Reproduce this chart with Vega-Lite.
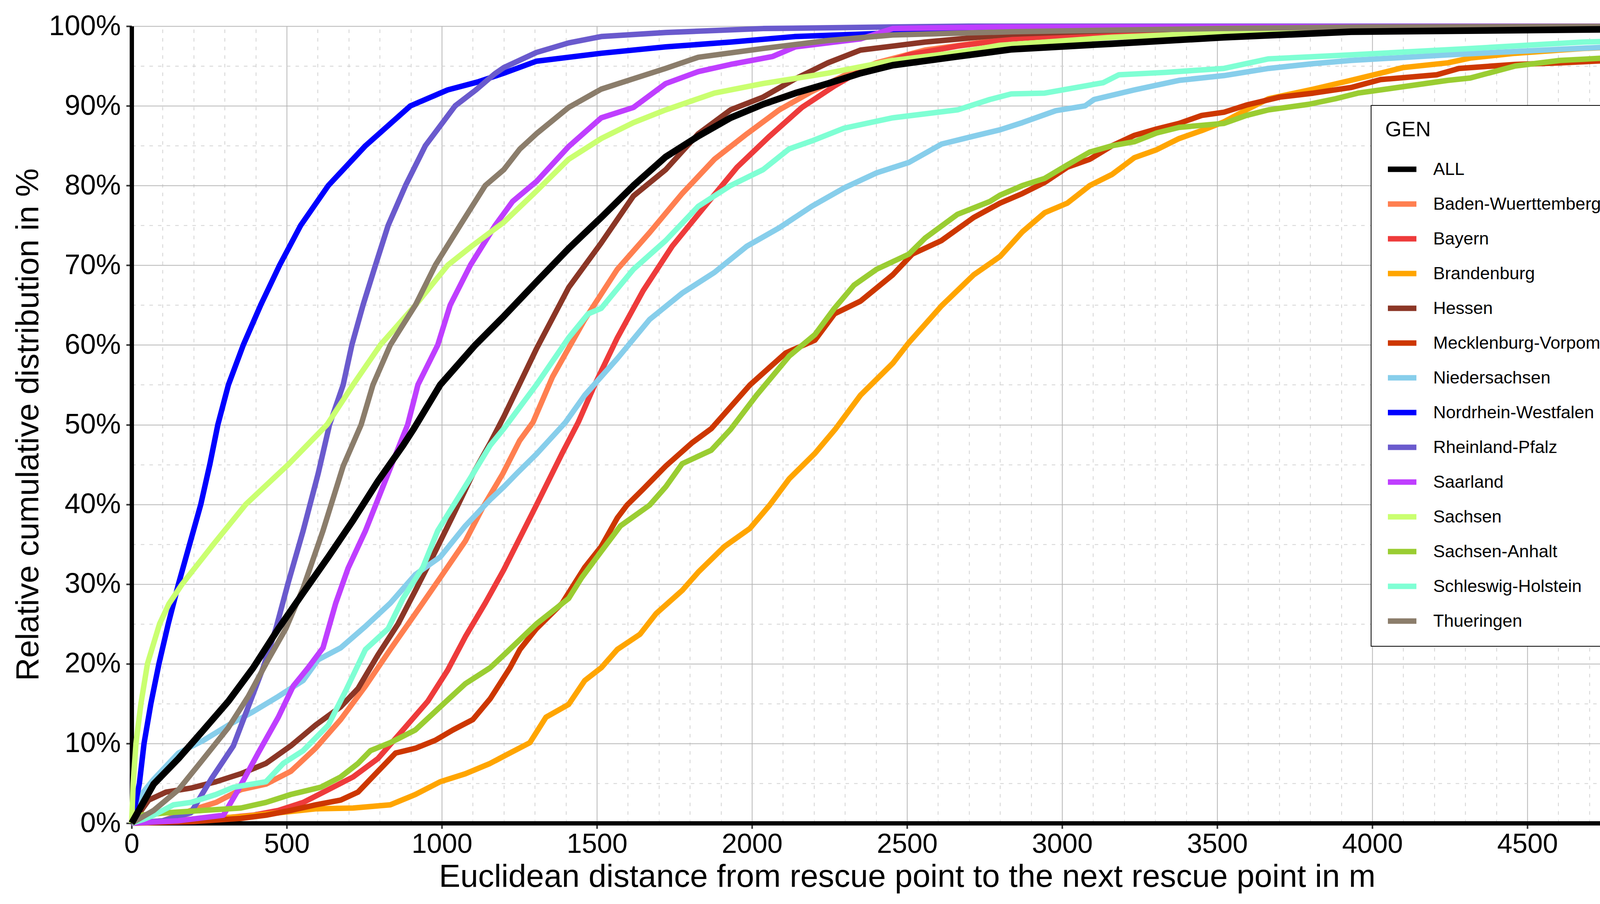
{
  "$schema": "https://vega.github.io/schema/vega-lite/v6.json",
  "width": 3970,
  "height": 2041,
  "autosize": {"type": "none"},
  "padding": {"left": 337, "top": 67, "right": 103, "bottom": 207},
  "background": "white",
  "config": {"view": {"stroke": null}, "font": "Liberation Sans", "legend": {"strokeWidth": 2}},
  "datasets": {
    "cdf": [
      {"GEN": "Baden-Wuerttemberg", "d": 0, "p": 0}, {"GEN": "Baden-Wuerttemberg", "d": 100, "p": 0.3}, {"GEN": "Baden-Wuerttemberg", "d": 191, "p": 1.6}, {"GEN": "Baden-Wuerttemberg", "d": 272, "p": 2.6}, {"GEN": "Baden-Wuerttemberg", "d": 352, "p": 4.2}, {"GEN": "Baden-Wuerttemberg", "d": 433, "p": 4.9}, {"GEN": "Baden-Wuerttemberg", "d": 513, "p": 6.5}, {"GEN": "Baden-Wuerttemberg", "d": 593, "p": 9.4}, {"GEN": "Baden-Wuerttemberg", "d": 674, "p": 13}, {"GEN": "Baden-Wuerttemberg", "d": 754, "p": 17.2}, {"GEN": "Baden-Wuerttemberg", "d": 834, "p": 21.8}, {"GEN": "Baden-Wuerttemberg", "d": 915, "p": 26.3}, {"GEN": "Baden-Wuerttemberg", "d": 995, "p": 30.8}, {"GEN": "Baden-Wuerttemberg", "d": 1076, "p": 35.4}, {"GEN": "Baden-Wuerttemberg", "d": 1132, "p": 39.6}, {"GEN": "Baden-Wuerttemberg", "d": 1196, "p": 43.8}, {"GEN": "Baden-Wuerttemberg", "d": 1251, "p": 48}, {"GEN": "Baden-Wuerttemberg", "d": 1294, "p": 50.3}, {"GEN": "Baden-Wuerttemberg", "d": 1357, "p": 56}, {"GEN": "Baden-Wuerttemberg", "d": 1461, "p": 63.2}, {"GEN": "Baden-Wuerttemberg", "d": 1566, "p": 69.5}, {"GEN": "Baden-Wuerttemberg", "d": 1670, "p": 74.1}, {"GEN": "Baden-Wuerttemberg", "d": 1775, "p": 79}, {"GEN": "Baden-Wuerttemberg", "d": 1879, "p": 83.3}, {"GEN": "Baden-Wuerttemberg", "d": 1984, "p": 86.5}, {"GEN": "Baden-Wuerttemberg", "d": 2088, "p": 89.5}, {"GEN": "Baden-Wuerttemberg", "d": 2193, "p": 91.8}, {"GEN": "Baden-Wuerttemberg", "d": 2297, "p": 93.8}, {"GEN": "Baden-Wuerttemberg", "d": 2402, "p": 95.4}, {"GEN": "Baden-Wuerttemberg", "d": 2558, "p": 97}, {"GEN": "Baden-Wuerttemberg", "d": 2838, "p": 98.5}, {"GEN": "Baden-Wuerttemberg", "d": 3161, "p": 99.2}, {"GEN": "Baden-Wuerttemberg", "d": 3700, "p": 99.6}, {"GEN": "Baden-Wuerttemberg", "d": 5000, "p": 100},
      {"GEN": "Bayern", "d": 0, "p": 0}, {"GEN": "Bayern", "d": 200, "p": 0.3}, {"GEN": "Bayern", "d": 392, "p": 1}, {"GEN": "Bayern", "d": 473, "p": 1.6}, {"GEN": "Bayern", "d": 553, "p": 2.6}, {"GEN": "Bayern", "d": 634, "p": 4.2}, {"GEN": "Bayern", "d": 714, "p": 5.8}, {"GEN": "Bayern", "d": 794, "p": 8.1}, {"GEN": "Bayern", "d": 875, "p": 11.7}, {"GEN": "Bayern", "d": 955, "p": 15.3}, {"GEN": "Bayern", "d": 1019, "p": 19.2}, {"GEN": "Bayern", "d": 1076, "p": 23.4}, {"GEN": "Bayern", "d": 1140, "p": 27.6}, {"GEN": "Bayern", "d": 1200, "p": 31.8}, {"GEN": "Bayern", "d": 1305, "p": 39.9}, {"GEN": "Bayern", "d": 1388, "p": 46.4}, {"GEN": "Bayern", "d": 1440, "p": 50.3}, {"GEN": "Bayern", "d": 1493, "p": 55}, {"GEN": "Bayern", "d": 1566, "p": 60.9}, {"GEN": "Bayern", "d": 1649, "p": 66.8}, {"GEN": "Bayern", "d": 1743, "p": 72.4}, {"GEN": "Bayern", "d": 1848, "p": 77.4}, {"GEN": "Bayern", "d": 1952, "p": 82.3}, {"GEN": "Bayern", "d": 2057, "p": 86.2}, {"GEN": "Bayern", "d": 2161, "p": 89.8}, {"GEN": "Bayern", "d": 2266, "p": 92.5}, {"GEN": "Bayern", "d": 2350, "p": 94.4}, {"GEN": "Bayern", "d": 2506, "p": 96.4}, {"GEN": "Bayern", "d": 2663, "p": 97.5}, {"GEN": "Bayern", "d": 2838, "p": 98.4}, {"GEN": "Bayern", "d": 3161, "p": 99.2}, {"GEN": "Bayern", "d": 3700, "p": 99.6}, {"GEN": "Bayern", "d": 5000, "p": 100},
      {"GEN": "Brandenburg", "d": 0, "p": 0}, {"GEN": "Brandenburg", "d": 232, "p": 0.6}, {"GEN": "Brandenburg", "d": 352, "p": 0.8}, {"GEN": "Brandenburg", "d": 473, "p": 1.3}, {"GEN": "Brandenburg", "d": 593, "p": 1.8}, {"GEN": "Brandenburg", "d": 714, "p": 1.9}, {"GEN": "Brandenburg", "d": 834, "p": 2.3}, {"GEN": "Brandenburg", "d": 915, "p": 3.6}, {"GEN": "Brandenburg", "d": 995, "p": 5.2}, {"GEN": "Brandenburg", "d": 1076, "p": 6.2}, {"GEN": "Brandenburg", "d": 1156, "p": 7.5}, {"GEN": "Brandenburg", "d": 1200, "p": 8.4}, {"GEN": "Brandenburg", "d": 1284, "p": 10.1}, {"GEN": "Brandenburg", "d": 1336, "p": 13.3}, {"GEN": "Brandenburg", "d": 1409, "p": 14.9}, {"GEN": "Brandenburg", "d": 1461, "p": 17.9}, {"GEN": "Brandenburg", "d": 1514, "p": 19.5}, {"GEN": "Brandenburg", "d": 1566, "p": 21.8}, {"GEN": "Brandenburg", "d": 1639, "p": 23.7}, {"GEN": "Brandenburg", "d": 1691, "p": 26.3}, {"GEN": "Brandenburg", "d": 1775, "p": 29.2}, {"GEN": "Brandenburg", "d": 1827, "p": 31.5}, {"GEN": "Brandenburg", "d": 1911, "p": 34.7}, {"GEN": "Brandenburg", "d": 1994, "p": 37}, {"GEN": "Brandenburg", "d": 2057, "p": 39.9}, {"GEN": "Brandenburg", "d": 2120, "p": 43.2}, {"GEN": "Brandenburg", "d": 2203, "p": 46.4}, {"GEN": "Brandenburg", "d": 2270, "p": 49.5}, {"GEN": "Brandenburg", "d": 2350, "p": 53.7}, {"GEN": "Brandenburg", "d": 2454, "p": 57.7}, {"GEN": "Brandenburg", "d": 2506, "p": 60.3}, {"GEN": "Brandenburg", "d": 2611, "p": 64.9}, {"GEN": "Brandenburg", "d": 2715, "p": 68.8}, {"GEN": "Brandenburg", "d": 2800, "p": 71.1}, {"GEN": "Brandenburg", "d": 2872, "p": 74.2}, {"GEN": "Brandenburg", "d": 2944, "p": 76.6}, {"GEN": "Brandenburg", "d": 3017, "p": 77.8}, {"GEN": "Brandenburg", "d": 3089, "p": 80}, {"GEN": "Brandenburg", "d": 3161, "p": 81.4}, {"GEN": "Brandenburg", "d": 3233, "p": 83.5}, {"GEN": "Brandenburg", "d": 3305, "p": 84.5}, {"GEN": "Brandenburg", "d": 3377, "p": 85.9}, {"GEN": "Brandenburg", "d": 3450, "p": 86.9}, {"GEN": "Brandenburg", "d": 3522, "p": 88}, {"GEN": "Brandenburg", "d": 3594, "p": 89.5}, {"GEN": "Brandenburg", "d": 3666, "p": 90.9}, {"GEN": "Brandenburg", "d": 3810, "p": 92.1}, {"GEN": "Brandenburg", "d": 3931, "p": 93.2}, {"GEN": "Brandenburg", "d": 4027, "p": 94.1}, {"GEN": "Brandenburg", "d": 4099, "p": 94.8}, {"GEN": "Brandenburg", "d": 4244, "p": 95.4}, {"GEN": "Brandenburg", "d": 4316, "p": 96}, {"GEN": "Brandenburg", "d": 4461, "p": 96.6}, {"GEN": "Brandenburg", "d": 4605, "p": 97}, {"GEN": "Brandenburg", "d": 4678, "p": 97.2}, {"GEN": "Brandenburg", "d": 5000, "p": 97.7},
      {"GEN": "Hessen", "d": 0, "p": 0}, {"GEN": "Hessen", "d": 31, "p": 1.6}, {"GEN": "Hessen", "d": 55, "p": 2.9}, {"GEN": "Hessen", "d": 111, "p": 3.9}, {"GEN": "Hessen", "d": 191, "p": 4.4}, {"GEN": "Hessen", "d": 272, "p": 5.2}, {"GEN": "Hessen", "d": 352, "p": 6.2}, {"GEN": "Hessen", "d": 433, "p": 7.5}, {"GEN": "Hessen", "d": 513, "p": 9.7}, {"GEN": "Hessen", "d": 593, "p": 12.3}, {"GEN": "Hessen", "d": 674, "p": 14.6}, {"GEN": "Hessen", "d": 730, "p": 16.9}, {"GEN": "Hessen", "d": 794, "p": 21.1}, {"GEN": "Hessen", "d": 859, "p": 25}, {"GEN": "Hessen", "d": 915, "p": 29.2}, {"GEN": "Hessen", "d": 979, "p": 34.1}, {"GEN": "Hessen", "d": 1036, "p": 38.6}, {"GEN": "Hessen", "d": 1100, "p": 43.8}, {"GEN": "Hessen", "d": 1156, "p": 47.7}, {"GEN": "Hessen", "d": 1200, "p": 51}, {"GEN": "Hessen", "d": 1305, "p": 59.5}, {"GEN": "Hessen", "d": 1409, "p": 67.2}, {"GEN": "Hessen", "d": 1514, "p": 72.8}, {"GEN": "Hessen", "d": 1618, "p": 78.7}, {"GEN": "Hessen", "d": 1722, "p": 82}, {"GEN": "Hessen", "d": 1827, "p": 86.5}, {"GEN": "Hessen", "d": 1931, "p": 89.5}, {"GEN": "Hessen", "d": 2036, "p": 91.1}, {"GEN": "Hessen", "d": 2140, "p": 93.4}, {"GEN": "Hessen", "d": 2245, "p": 95.4}, {"GEN": "Hessen", "d": 2350, "p": 97}, {"GEN": "Hessen", "d": 2558, "p": 98}, {"GEN": "Hessen", "d": 2838, "p": 99}, {"GEN": "Hessen", "d": 3200, "p": 99.5}, {"GEN": "Hessen", "d": 4000, "p": 99.9}, {"GEN": "Hessen", "d": 5000, "p": 100},
      {"GEN": "Mecklenburg-Vorpommern", "d": 0, "p": 0}, {"GEN": "Mecklenburg-Vorpommern", "d": 200, "p": 0.2}, {"GEN": "Mecklenburg-Vorpommern", "d": 352, "p": 0.6}, {"GEN": "Mecklenburg-Vorpommern", "d": 433, "p": 1}, {"GEN": "Mecklenburg-Vorpommern", "d": 513, "p": 1.6}, {"GEN": "Mecklenburg-Vorpommern", "d": 593, "p": 2.3}, {"GEN": "Mecklenburg-Vorpommern", "d": 674, "p": 2.9}, {"GEN": "Mecklenburg-Vorpommern", "d": 730, "p": 3.9}, {"GEN": "Mecklenburg-Vorpommern", "d": 794, "p": 6.5}, {"GEN": "Mecklenburg-Vorpommern", "d": 851, "p": 8.8}, {"GEN": "Mecklenburg-Vorpommern", "d": 915, "p": 9.4}, {"GEN": "Mecklenburg-Vorpommern", "d": 979, "p": 10.4}, {"GEN": "Mecklenburg-Vorpommern", "d": 1036, "p": 11.7}, {"GEN": "Mecklenburg-Vorpommern", "d": 1100, "p": 13}, {"GEN": "Mecklenburg-Vorpommern", "d": 1156, "p": 15.6}, {"GEN": "Mecklenburg-Vorpommern", "d": 1220, "p": 19.5}, {"GEN": "Mecklenburg-Vorpommern", "d": 1252, "p": 21.8}, {"GEN": "Mecklenburg-Vorpommern", "d": 1305, "p": 24.4}, {"GEN": "Mecklenburg-Vorpommern", "d": 1388, "p": 27.6}, {"GEN": "Mecklenburg-Vorpommern", "d": 1461, "p": 32.1}, {"GEN": "Mecklenburg-Vorpommern", "d": 1514, "p": 34.7}, {"GEN": "Mecklenburg-Vorpommern", "d": 1566, "p": 38.3}, {"GEN": "Mecklenburg-Vorpommern", "d": 1597, "p": 39.9}, {"GEN": "Mecklenburg-Vorpommern", "d": 1649, "p": 41.9}, {"GEN": "Mecklenburg-Vorpommern", "d": 1722, "p": 44.8}, {"GEN": "Mecklenburg-Vorpommern", "d": 1806, "p": 47.7}, {"GEN": "Mecklenburg-Vorpommern", "d": 1869, "p": 49.5}, {"GEN": "Mecklenburg-Vorpommern", "d": 1994, "p": 55}, {"GEN": "Mecklenburg-Vorpommern", "d": 2109, "p": 59}, {"GEN": "Mecklenburg-Vorpommern", "d": 2203, "p": 60.6}, {"GEN": "Mecklenburg-Vorpommern", "d": 2266, "p": 63.9}, {"GEN": "Mecklenburg-Vorpommern", "d": 2350, "p": 65.5}, {"GEN": "Mecklenburg-Vorpommern", "d": 2454, "p": 68.8}, {"GEN": "Mecklenburg-Vorpommern", "d": 2517, "p": 71.4}, {"GEN": "Mecklenburg-Vorpommern", "d": 2611, "p": 73.1}, {"GEN": "Mecklenburg-Vorpommern", "d": 2715, "p": 76}, {"GEN": "Mecklenburg-Vorpommern", "d": 2800, "p": 77.8}, {"GEN": "Mecklenburg-Vorpommern", "d": 2872, "p": 79}, {"GEN": "Mecklenburg-Vorpommern", "d": 2944, "p": 80.4}, {"GEN": "Mecklenburg-Vorpommern", "d": 3017, "p": 82.3}, {"GEN": "Mecklenburg-Vorpommern", "d": 3089, "p": 83.3}, {"GEN": "Mecklenburg-Vorpommern", "d": 3161, "p": 85}, {"GEN": "Mecklenburg-Vorpommern", "d": 3233, "p": 86.3}, {"GEN": "Mecklenburg-Vorpommern", "d": 3305, "p": 87.1}, {"GEN": "Mecklenburg-Vorpommern", "d": 3377, "p": 87.8}, {"GEN": "Mecklenburg-Vorpommern", "d": 3450, "p": 88.8}, {"GEN": "Mecklenburg-Vorpommern", "d": 3522, "p": 89.2}, {"GEN": "Mecklenburg-Vorpommern", "d": 3594, "p": 90.1}, {"GEN": "Mecklenburg-Vorpommern", "d": 3702, "p": 91.1}, {"GEN": "Mecklenburg-Vorpommern", "d": 3810, "p": 91.6}, {"GEN": "Mecklenburg-Vorpommern", "d": 3931, "p": 92.3}, {"GEN": "Mecklenburg-Vorpommern", "d": 4027, "p": 93.3}, {"GEN": "Mecklenburg-Vorpommern", "d": 4208, "p": 93.9}, {"GEN": "Mecklenburg-Vorpommern", "d": 4280, "p": 94.7}, {"GEN": "Mecklenburg-Vorpommern", "d": 4461, "p": 95.2}, {"GEN": "Mecklenburg-Vorpommern", "d": 4605, "p": 95.4}, {"GEN": "Mecklenburg-Vorpommern", "d": 4765, "p": 95.7}, {"GEN": "Mecklenburg-Vorpommern", "d": 5000, "p": 96.5},
      {"GEN": "Niedersachsen", "d": 0, "p": 0}, {"GEN": "Niedersachsen", "d": 31, "p": 3.6}, {"GEN": "Niedersachsen", "d": 71, "p": 5.5}, {"GEN": "Niedersachsen", "d": 151, "p": 8.8}, {"GEN": "Niedersachsen", "d": 232, "p": 10.4}, {"GEN": "Niedersachsen", "d": 312, "p": 12.3}, {"GEN": "Niedersachsen", "d": 392, "p": 14}, {"GEN": "Niedersachsen", "d": 473, "p": 15.9}, {"GEN": "Niedersachsen", "d": 553, "p": 17.9}, {"GEN": "Niedersachsen", "d": 601, "p": 20.5}, {"GEN": "Niedersachsen", "d": 674, "p": 22}, {"GEN": "Niedersachsen", "d": 754, "p": 24.7}, {"GEN": "Niedersachsen", "d": 834, "p": 27.6}, {"GEN": "Niedersachsen", "d": 915, "p": 31.2}, {"GEN": "Niedersachsen", "d": 995, "p": 33.4}, {"GEN": "Niedersachsen", "d": 1076, "p": 37.3}, {"GEN": "Niedersachsen", "d": 1156, "p": 40.6}, {"GEN": "Niedersachsen", "d": 1200, "p": 42.2}, {"GEN": "Niedersachsen", "d": 1245, "p": 44}, {"GEN": "Niedersachsen", "d": 1305, "p": 46.3}, {"GEN": "Niedersachsen", "d": 1399, "p": 50.3}, {"GEN": "Niedersachsen", "d": 1461, "p": 53.7}, {"GEN": "Niedersachsen", "d": 1566, "p": 58.3}, {"GEN": "Niedersachsen", "d": 1670, "p": 63.2}, {"GEN": "Niedersachsen", "d": 1775, "p": 66.5}, {"GEN": "Niedersachsen", "d": 1879, "p": 69.1}, {"GEN": "Niedersachsen", "d": 1984, "p": 72.4}, {"GEN": "Niedersachsen", "d": 2088, "p": 74.7}, {"GEN": "Niedersachsen", "d": 2193, "p": 77.4}, {"GEN": "Niedersachsen", "d": 2297, "p": 79.7}, {"GEN": "Niedersachsen", "d": 2402, "p": 81.6}, {"GEN": "Niedersachsen", "d": 2506, "p": 82.9}, {"GEN": "Niedersachsen", "d": 2611, "p": 85.2}, {"GEN": "Niedersachsen", "d": 2715, "p": 86.2}, {"GEN": "Niedersachsen", "d": 2800, "p": 87}, {"GEN": "Niedersachsen", "d": 2872, "p": 87.9}, {"GEN": "Niedersachsen", "d": 2980, "p": 89.4}, {"GEN": "Niedersachsen", "d": 3074, "p": 90}, {"GEN": "Niedersachsen", "d": 3103, "p": 90.8}, {"GEN": "Niedersachsen", "d": 3233, "p": 92}, {"GEN": "Niedersachsen", "d": 3377, "p": 93.2}, {"GEN": "Niedersachsen", "d": 3522, "p": 93.8}, {"GEN": "Niedersachsen", "d": 3666, "p": 94.7}, {"GEN": "Niedersachsen", "d": 3810, "p": 95.3}, {"GEN": "Niedersachsen", "d": 3931, "p": 95.7}, {"GEN": "Niedersachsen", "d": 4244, "p": 96.4}, {"GEN": "Niedersachsen", "d": 4605, "p": 97.1}, {"GEN": "Niedersachsen", "d": 5000, "p": 97.8},
      {"GEN": "Nordrhein-Westfalen", "d": 0, "p": 0}, {"GEN": "Nordrhein-Westfalen", "d": 25, "p": 5}, {"GEN": "Nordrhein-Westfalen", "d": 40, "p": 10}, {"GEN": "Nordrhein-Westfalen", "d": 62, "p": 15}, {"GEN": "Nordrhein-Westfalen", "d": 88, "p": 20}, {"GEN": "Nordrhein-Westfalen", "d": 118, "p": 25}, {"GEN": "Nordrhein-Westfalen", "d": 151, "p": 30}, {"GEN": "Nordrhein-Westfalen", "d": 187, "p": 35}, {"GEN": "Nordrhein-Westfalen", "d": 223, "p": 40}, {"GEN": "Nordrhein-Westfalen", "d": 252, "p": 45}, {"GEN": "Nordrhein-Westfalen", "d": 278, "p": 50}, {"GEN": "Nordrhein-Westfalen", "d": 312, "p": 55}, {"GEN": "Nordrhein-Westfalen", "d": 360, "p": 60}, {"GEN": "Nordrhein-Westfalen", "d": 416, "p": 65}, {"GEN": "Nordrhein-Westfalen", "d": 477, "p": 70}, {"GEN": "Nordrhein-Westfalen", "d": 545, "p": 75}, {"GEN": "Nordrhein-Westfalen", "d": 634, "p": 80}, {"GEN": "Nordrhein-Westfalen", "d": 754, "p": 85}, {"GEN": "Nordrhein-Westfalen", "d": 899, "p": 90}, {"GEN": "Nordrhein-Westfalen", "d": 1019, "p": 92}, {"GEN": "Nordrhein-Westfalen", "d": 1116, "p": 93}, {"GEN": "Nordrhein-Westfalen", "d": 1200, "p": 94.1}, {"GEN": "Nordrhein-Westfalen", "d": 1305, "p": 95.6}, {"GEN": "Nordrhein-Westfalen", "d": 1514, "p": 96.6}, {"GEN": "Nordrhein-Westfalen", "d": 1722, "p": 97.4}, {"GEN": "Nordrhein-Westfalen", "d": 1931, "p": 98}, {"GEN": "Nordrhein-Westfalen", "d": 2140, "p": 98.7}, {"GEN": "Nordrhein-Westfalen", "d": 2350, "p": 99}, {"GEN": "Nordrhein-Westfalen", "d": 2558, "p": 99.3}, {"GEN": "Nordrhein-Westfalen", "d": 2838, "p": 99.7}, {"GEN": "Nordrhein-Westfalen", "d": 3300, "p": 100}, {"GEN": "Nordrhein-Westfalen", "d": 5000, "p": 100},
      {"GEN": "Rheinland-Pfalz", "d": 0, "p": 0}, {"GEN": "Rheinland-Pfalz", "d": 100, "p": 0.3}, {"GEN": "Rheinland-Pfalz", "d": 191, "p": 1.3}, {"GEN": "Rheinland-Pfalz", "d": 256, "p": 5.5}, {"GEN": "Rheinland-Pfalz", "d": 328, "p": 9.7}, {"GEN": "Rheinland-Pfalz", "d": 376, "p": 14.6}, {"GEN": "Rheinland-Pfalz", "d": 424, "p": 19.5}, {"GEN": "Rheinland-Pfalz", "d": 465, "p": 24.4}, {"GEN": "Rheinland-Pfalz", "d": 505, "p": 30.2}, {"GEN": "Rheinland-Pfalz", "d": 553, "p": 36.7}, {"GEN": "Rheinland-Pfalz", "d": 601, "p": 43.8}, {"GEN": "Rheinland-Pfalz", "d": 638, "p": 50}, {"GEN": "Rheinland-Pfalz", "d": 682, "p": 55}, {"GEN": "Rheinland-Pfalz", "d": 710, "p": 60}, {"GEN": "Rheinland-Pfalz", "d": 746, "p": 65}, {"GEN": "Rheinland-Pfalz", "d": 786, "p": 70}, {"GEN": "Rheinland-Pfalz", "d": 827, "p": 75}, {"GEN": "Rheinland-Pfalz", "d": 883, "p": 80}, {"GEN": "Rheinland-Pfalz", "d": 947, "p": 85}, {"GEN": "Rheinland-Pfalz", "d": 1043, "p": 90}, {"GEN": "Rheinland-Pfalz", "d": 1110, "p": 92}, {"GEN": "Rheinland-Pfalz", "d": 1170, "p": 94}, {"GEN": "Rheinland-Pfalz", "d": 1200, "p": 94.8}, {"GEN": "Rheinland-Pfalz", "d": 1305, "p": 96.7}, {"GEN": "Rheinland-Pfalz", "d": 1409, "p": 97.9}, {"GEN": "Rheinland-Pfalz", "d": 1514, "p": 98.7}, {"GEN": "Rheinland-Pfalz", "d": 1722, "p": 99.2}, {"GEN": "Rheinland-Pfalz", "d": 2036, "p": 99.7}, {"GEN": "Rheinland-Pfalz", "d": 2454, "p": 99.9}, {"GEN": "Rheinland-Pfalz", "d": 2700, "p": 100}, {"GEN": "Rheinland-Pfalz", "d": 5000, "p": 100},
      {"GEN": "Saarland", "d": 0, "p": 0}, {"GEN": "Saarland", "d": 150, "p": 0.3}, {"GEN": "Saarland", "d": 296, "p": 1}, {"GEN": "Saarland", "d": 344, "p": 4.2}, {"GEN": "Saarland", "d": 408, "p": 8.8}, {"GEN": "Saarland", "d": 473, "p": 13.3}, {"GEN": "Saarland", "d": 521, "p": 17.2}, {"GEN": "Saarland", "d": 569, "p": 19.5}, {"GEN": "Saarland", "d": 617, "p": 22}, {"GEN": "Saarland", "d": 658, "p": 27.6}, {"GEN": "Saarland", "d": 698, "p": 32}, {"GEN": "Saarland", "d": 754, "p": 36.7}, {"GEN": "Saarland", "d": 810, "p": 42.2}, {"GEN": "Saarland", "d": 859, "p": 47}, {"GEN": "Saarland", "d": 890, "p": 50}, {"GEN": "Saarland", "d": 923, "p": 55}, {"GEN": "Saarland", "d": 987, "p": 60}, {"GEN": "Saarland", "d": 1027, "p": 65}, {"GEN": "Saarland", "d": 1092, "p": 70}, {"GEN": "Saarland", "d": 1172, "p": 75}, {"GEN": "Saarland", "d": 1228, "p": 78}, {"GEN": "Saarland", "d": 1305, "p": 80.5}, {"GEN": "Saarland", "d": 1409, "p": 84.9}, {"GEN": "Saarland", "d": 1514, "p": 88.5}, {"GEN": "Saarland", "d": 1618, "p": 89.8}, {"GEN": "Saarland", "d": 1722, "p": 92.8}, {"GEN": "Saarland", "d": 1827, "p": 94.3}, {"GEN": "Saarland", "d": 1931, "p": 95.2}, {"GEN": "Saarland", "d": 2067, "p": 96.2}, {"GEN": "Saarland", "d": 2140, "p": 97.4}, {"GEN": "Saarland", "d": 2350, "p": 98.4}, {"GEN": "Saarland", "d": 2454, "p": 99.7}, {"GEN": "Saarland", "d": 2800, "p": 99.9}, {"GEN": "Saarland", "d": 5000, "p": 100},
      {"GEN": "Sachsen", "d": 0, "p": 0}, {"GEN": "Sachsen", "d": 5, "p": 5}, {"GEN": "Sachsen", "d": 14, "p": 10}, {"GEN": "Sachsen", "d": 30, "p": 15}, {"GEN": "Sachsen", "d": 51, "p": 20}, {"GEN": "Sachsen", "d": 90, "p": 25}, {"GEN": "Sachsen", "d": 120, "p": 27.5}, {"GEN": "Sachsen", "d": 163, "p": 30}, {"GEN": "Sachsen", "d": 264, "p": 35}, {"GEN": "Sachsen", "d": 368, "p": 40}, {"GEN": "Sachsen", "d": 505, "p": 45}, {"GEN": "Sachsen", "d": 630, "p": 50}, {"GEN": "Sachsen", "d": 714, "p": 55}, {"GEN": "Sachsen", "d": 802, "p": 60}, {"GEN": "Sachsen", "d": 915, "p": 65}, {"GEN": "Sachsen", "d": 1019, "p": 70}, {"GEN": "Sachsen", "d": 1100, "p": 72.5}, {"GEN": "Sachsen", "d": 1200, "p": 75.4}, {"GEN": "Sachsen", "d": 1305, "p": 79.3}, {"GEN": "Sachsen", "d": 1409, "p": 83.3}, {"GEN": "Sachsen", "d": 1514, "p": 85.9}, {"GEN": "Sachsen", "d": 1618, "p": 87.9}, {"GEN": "Sachsen", "d": 1722, "p": 89.5}, {"GEN": "Sachsen", "d": 1879, "p": 91.6}, {"GEN": "Sachsen", "d": 2036, "p": 92.8}, {"GEN": "Sachsen", "d": 2245, "p": 94.1}, {"GEN": "Sachsen", "d": 2454, "p": 95.7}, {"GEN": "Sachsen", "d": 2663, "p": 96.7}, {"GEN": "Sachsen", "d": 2800, "p": 97.6}, {"GEN": "Sachsen", "d": 3161, "p": 98.6}, {"GEN": "Sachsen", "d": 3522, "p": 99.2}, {"GEN": "Sachsen", "d": 3800, "p": 99.6}, {"GEN": "Sachsen", "d": 5000, "p": 100},
      {"GEN": "Sachsen-Anhalt", "d": 0, "p": 0}, {"GEN": "Sachsen-Anhalt", "d": 31, "p": 1}, {"GEN": "Sachsen-Anhalt", "d": 111, "p": 1.3}, {"GEN": "Sachsen-Anhalt", "d": 232, "p": 1.6}, {"GEN": "Sachsen-Anhalt", "d": 352, "p": 1.9}, {"GEN": "Sachsen-Anhalt", "d": 433, "p": 2.6}, {"GEN": "Sachsen-Anhalt", "d": 513, "p": 3.6}, {"GEN": "Sachsen-Anhalt", "d": 609, "p": 4.5}, {"GEN": "Sachsen-Anhalt", "d": 674, "p": 5.8}, {"GEN": "Sachsen-Anhalt", "d": 730, "p": 7.5}, {"GEN": "Sachsen-Anhalt", "d": 770, "p": 9.1}, {"GEN": "Sachsen-Anhalt", "d": 834, "p": 10.1}, {"GEN": "Sachsen-Anhalt", "d": 915, "p": 11.7}, {"GEN": "Sachsen-Anhalt", "d": 995, "p": 14.6}, {"GEN": "Sachsen-Anhalt", "d": 1076, "p": 17.5}, {"GEN": "Sachsen-Anhalt", "d": 1156, "p": 19.5}, {"GEN": "Sachsen-Anhalt", "d": 1200, "p": 21.1}, {"GEN": "Sachsen-Anhalt", "d": 1305, "p": 25}, {"GEN": "Sachsen-Anhalt", "d": 1409, "p": 28.2}, {"GEN": "Sachsen-Anhalt", "d": 1451, "p": 30.8}, {"GEN": "Sachsen-Anhalt", "d": 1514, "p": 34.1}, {"GEN": "Sachsen-Anhalt", "d": 1576, "p": 37.3}, {"GEN": "Sachsen-Anhalt", "d": 1670, "p": 39.9}, {"GEN": "Sachsen-Anhalt", "d": 1722, "p": 42.2}, {"GEN": "Sachsen-Anhalt", "d": 1775, "p": 45.1}, {"GEN": "Sachsen-Anhalt", "d": 1869, "p": 46.8}, {"GEN": "Sachsen-Anhalt", "d": 1931, "p": 49.4}, {"GEN": "Sachsen-Anhalt", "d": 2015, "p": 53.7}, {"GEN": "Sachsen-Anhalt", "d": 2120, "p": 58.6}, {"GEN": "Sachsen-Anhalt", "d": 2203, "p": 61.3}, {"GEN": "Sachsen-Anhalt", "d": 2266, "p": 64.6}, {"GEN": "Sachsen-Anhalt", "d": 2329, "p": 67.5}, {"GEN": "Sachsen-Anhalt", "d": 2402, "p": 69.5}, {"GEN": "Sachsen-Anhalt", "d": 2506, "p": 71.4}, {"GEN": "Sachsen-Anhalt", "d": 2558, "p": 73.4}, {"GEN": "Sachsen-Anhalt", "d": 2663, "p": 76.4}, {"GEN": "Sachsen-Anhalt", "d": 2767, "p": 78}, {"GEN": "Sachsen-Anhalt", "d": 2800, "p": 78.8}, {"GEN": "Sachsen-Anhalt", "d": 2872, "p": 80}, {"GEN": "Sachsen-Anhalt", "d": 2944, "p": 80.9}, {"GEN": "Sachsen-Anhalt", "d": 3017, "p": 82.6}, {"GEN": "Sachsen-Anhalt", "d": 3089, "p": 84.2}, {"GEN": "Sachsen-Anhalt", "d": 3161, "p": 85}, {"GEN": "Sachsen-Anhalt", "d": 3233, "p": 85.5}, {"GEN": "Sachsen-Anhalt", "d": 3305, "p": 86.6}, {"GEN": "Sachsen-Anhalt", "d": 3377, "p": 87.3}, {"GEN": "Sachsen-Anhalt", "d": 3522, "p": 87.8}, {"GEN": "Sachsen-Anhalt", "d": 3594, "p": 88.8}, {"GEN": "Sachsen-Anhalt", "d": 3666, "p": 89.5}, {"GEN": "Sachsen-Anhalt", "d": 3796, "p": 90.2}, {"GEN": "Sachsen-Anhalt", "d": 3882, "p": 90.9}, {"GEN": "Sachsen-Anhalt", "d": 3954, "p": 91.6}, {"GEN": "Sachsen-Anhalt", "d": 4244, "p": 93.2}, {"GEN": "Sachsen-Anhalt", "d": 4316, "p": 93.5}, {"GEN": "Sachsen-Anhalt", "d": 4461, "p": 95}, {"GEN": "Sachsen-Anhalt", "d": 4605, "p": 95.7}, {"GEN": "Sachsen-Anhalt", "d": 4895, "p": 96.3}, {"GEN": "Sachsen-Anhalt", "d": 5000, "p": 97.1},
      {"GEN": "Schleswig-Holstein", "d": 0, "p": 0}, {"GEN": "Schleswig-Holstein", "d": 40, "p": 0.5}, {"GEN": "Schleswig-Holstein", "d": 71, "p": 1}, {"GEN": "Schleswig-Holstein", "d": 135, "p": 2.3}, {"GEN": "Schleswig-Holstein", "d": 191, "p": 2.6}, {"GEN": "Schleswig-Holstein", "d": 272, "p": 3.6}, {"GEN": "Schleswig-Holstein", "d": 328, "p": 4.5}, {"GEN": "Schleswig-Holstein", "d": 433, "p": 5.2}, {"GEN": "Schleswig-Holstein", "d": 489, "p": 7.5}, {"GEN": "Schleswig-Holstein", "d": 553, "p": 9.1}, {"GEN": "Schleswig-Holstein", "d": 634, "p": 12.3}, {"GEN": "Schleswig-Holstein", "d": 690, "p": 16.6}, {"GEN": "Schleswig-Holstein", "d": 754, "p": 21.8}, {"GEN": "Schleswig-Holstein", "d": 827, "p": 24.4}, {"GEN": "Schleswig-Holstein", "d": 875, "p": 28.2}, {"GEN": "Schleswig-Holstein", "d": 939, "p": 32.1}, {"GEN": "Schleswig-Holstein", "d": 987, "p": 36.7}, {"GEN": "Schleswig-Holstein", "d": 1100, "p": 43.8}, {"GEN": "Schleswig-Holstein", "d": 1156, "p": 47.4}, {"GEN": "Schleswig-Holstein", "d": 1200, "p": 49.5}, {"GEN": "Schleswig-Holstein", "d": 1305, "p": 55}, {"GEN": "Schleswig-Holstein", "d": 1409, "p": 60.9}, {"GEN": "Schleswig-Holstein", "d": 1472, "p": 63.9}, {"GEN": "Schleswig-Holstein", "d": 1514, "p": 64.6}, {"GEN": "Schleswig-Holstein", "d": 1618, "p": 69.5}, {"GEN": "Schleswig-Holstein", "d": 1722, "p": 73.1}, {"GEN": "Schleswig-Holstein", "d": 1827, "p": 77.4}, {"GEN": "Schleswig-Holstein", "d": 1931, "p": 80}, {"GEN": "Schleswig-Holstein", "d": 2036, "p": 82}, {"GEN": "Schleswig-Holstein", "d": 2120, "p": 84.6}, {"GEN": "Schleswig-Holstein", "d": 2193, "p": 85.6}, {"GEN": "Schleswig-Holstein", "d": 2297, "p": 87.2}, {"GEN": "Schleswig-Holstein", "d": 2454, "p": 88.5}, {"GEN": "Schleswig-Holstein", "d": 2663, "p": 89.5}, {"GEN": "Schleswig-Holstein", "d": 2767, "p": 90.8}, {"GEN": "Schleswig-Holstein", "d": 2836, "p": 91.5}, {"GEN": "Schleswig-Holstein", "d": 2944, "p": 91.6}, {"GEN": "Schleswig-Holstein", "d": 3031, "p": 92.2}, {"GEN": "Schleswig-Holstein", "d": 3132, "p": 92.9}, {"GEN": "Schleswig-Holstein", "d": 3183, "p": 93.9}, {"GEN": "Schleswig-Holstein", "d": 3334, "p": 94.2}, {"GEN": "Schleswig-Holstein", "d": 3522, "p": 94.7}, {"GEN": "Schleswig-Holstein", "d": 3666, "p": 95.9}, {"GEN": "Schleswig-Holstein", "d": 3931, "p": 96.4}, {"GEN": "Schleswig-Holstein", "d": 4316, "p": 97.2}, {"GEN": "Schleswig-Holstein", "d": 4678, "p": 98}, {"GEN": "Schleswig-Holstein", "d": 5000, "p": 98.4},
      {"GEN": "Thueringen", "d": 0, "p": 0}, {"GEN": "Thueringen", "d": 71, "p": 1.6}, {"GEN": "Thueringen", "d": 151, "p": 4.2}, {"GEN": "Thueringen", "d": 232, "p": 8.1}, {"GEN": "Thueringen", "d": 312, "p": 12}, {"GEN": "Thueringen", "d": 376, "p": 15.9}, {"GEN": "Thueringen", "d": 440, "p": 20.5}, {"GEN": "Thueringen", "d": 497, "p": 24.4}, {"GEN": "Thueringen", "d": 553, "p": 29.5}, {"GEN": "Thueringen", "d": 617, "p": 36.7}, {"GEN": "Thueringen", "d": 682, "p": 44.8}, {"GEN": "Thueringen", "d": 740, "p": 50}, {"GEN": "Thueringen", "d": 778, "p": 55}, {"GEN": "Thueringen", "d": 834, "p": 60}, {"GEN": "Thueringen", "d": 915, "p": 65}, {"GEN": "Thueringen", "d": 979, "p": 70}, {"GEN": "Thueringen", "d": 1059, "p": 75}, {"GEN": "Thueringen", "d": 1140, "p": 80}, {"GEN": "Thueringen", "d": 1200, "p": 82}, {"GEN": "Thueringen", "d": 1252, "p": 84.6}, {"GEN": "Thueringen", "d": 1305, "p": 86.5}, {"GEN": "Thueringen", "d": 1409, "p": 89.8}, {"GEN": "Thueringen", "d": 1514, "p": 92.1}, {"GEN": "Thueringen", "d": 1618, "p": 93.4}, {"GEN": "Thueringen", "d": 1722, "p": 94.7}, {"GEN": "Thueringen", "d": 1827, "p": 96.1}, {"GEN": "Thueringen", "d": 2036, "p": 97.2}, {"GEN": "Thueringen", "d": 2245, "p": 98.2}, {"GEN": "Thueringen", "d": 2454, "p": 98.9}, {"GEN": "Thueringen", "d": 2838, "p": 99.3}, {"GEN": "Thueringen", "d": 3500, "p": 99.7}, {"GEN": "Thueringen", "d": 4000, "p": 99.9}, {"GEN": "Thueringen", "d": 5000, "p": 100},
      {"GEN": "ALL", "d": 0, "p": 0}, {"GEN": "ALL", "d": 71, "p": 4.9}, {"GEN": "ALL", "d": 151, "p": 8.1}, {"GEN": "ALL", "d": 232, "p": 11.7}, {"GEN": "ALL", "d": 312, "p": 15.3}, {"GEN": "ALL", "d": 392, "p": 19.5}, {"GEN": "ALL", "d": 473, "p": 24.4}, {"GEN": "ALL", "d": 553, "p": 28.9}, {"GEN": "ALL", "d": 634, "p": 33.4}, {"GEN": "ALL", "d": 714, "p": 38}, {"GEN": "ALL", "d": 794, "p": 42.9}, {"GEN": "ALL", "d": 875, "p": 47.4}, {"GEN": "ALL", "d": 910, "p": 49.5}, {"GEN": "ALL", "d": 995, "p": 55}, {"GEN": "ALL", "d": 1108, "p": 60}, {"GEN": "ALL", "d": 1200, "p": 63.6}, {"GEN": "ALL", "d": 1305, "p": 67.9}, {"GEN": "ALL", "d": 1409, "p": 72.1}, {"GEN": "ALL", "d": 1514, "p": 76}, {"GEN": "ALL", "d": 1618, "p": 80}, {"GEN": "ALL", "d": 1722, "p": 83.6}, {"GEN": "ALL", "d": 1827, "p": 86.2}, {"GEN": "ALL", "d": 1931, "p": 88.5}, {"GEN": "ALL", "d": 2036, "p": 90.2}, {"GEN": "ALL", "d": 2140, "p": 91.6}, {"GEN": "ALL", "d": 2245, "p": 92.8}, {"GEN": "ALL", "d": 2350, "p": 94.1}, {"GEN": "ALL", "d": 2454, "p": 95.1}, {"GEN": "ALL", "d": 2663, "p": 96.2}, {"GEN": "ALL", "d": 2838, "p": 97.1}, {"GEN": "ALL", "d": 3161, "p": 97.8}, {"GEN": "ALL", "d": 3522, "p": 98.6}, {"GEN": "ALL", "d": 3931, "p": 99.3}, {"GEN": "ALL", "d": 5000, "p": 99.7}
    ]
  },
  "data": {"name": "cdf"},
  "layer": [
    {
      "mark": {"type": "line", "strokeOpacity": 0},
      "encoding": {
        "x": {
          "field": "d", "type": "quantitative",
          "scale": {"domain": [0, 5000], "nice": false},
          "axis": {
            "orient": "top", "values": [100, 200, 300, 400, 600, 700, 800, 900, 1100, 1200, 1300, 1400, 1600, 1700, 1800, 1900, 2100, 2200, 2300, 2400, 2600, 2700, 2800, 2900, 3100, 3200, 3300, 3400, 3600, 3700, 3800, 3900, 4100, 4200, 4300, 4400, 4600, 4700, 4800, 4900],
            "grid": true, "gridColor": "#d2d2d2", "gridWidth": 2, "gridDash": [9, 13],
            "labels": false, "ticks": false, "domain": false, "title": null
          }
        },
        "y": {
          "field": "p", "type": "quantitative",
          "scale": {"domain": [0, 100], "nice": false},
          "axis": {
            "orient": "right", "values": [5, 15, 25, 35, 45, 55, 65, 75, 85, 95],
            "grid": true, "gridColor": "#d2d2d2", "gridWidth": 2, "gridDash": [9, 13],
            "labels": false, "ticks": false, "domain": false, "title": null
          }
        },
        "detail": {"field": "GEN"}
      }
    },
    {
      "mark": {"type": "line", "strokeJoin": "round", "strokeCap": "butt"},
      "encoding": {
        "x": {
          "field": "d", "type": "quantitative",
          "axis": {
            "orient": "bottom", "values": [0, 500, 1000, 1500, 2000, 2500, 3000, 3500, 4000, 4500, 5000],
            "format": "d",
            "title": "Euclidean distance from rescue point to the next rescue point in m",
            "grid": true, "gridColor": "#b5b5b5", "gridWidth": 2,
            "domainColor": "black", "domainWidth": 11,
            "tickColor": "#333333", "tickWidth": 4, "tickSize": 14,
            "labelFont": "Liberation Sans", "labelFontSize": 70, "labelColor": "black", "labelPadding": 6,
            "labelFlush": false, "labelOverlap": false, "labelLimit": 400,
            "titleFont": "Liberation Sans", "titleFontSize": 82, "titleFontWeight": "normal", "titleColor": "black",
            "titleY": 162, "titleBaseline": "alphabetic"
          }
        },
        "y": {
          "field": "p", "type": "quantitative",
          "axis": {
            "orient": "left", "values": [0, 10, 20, 30, 40, 50, 60, 70, 80, 90, 100],
            "labelExpr": "datum.value + '%'",
            "title": "Relative cumulative distribution in %",
            "grid": true, "gridColor": "#b5b5b5", "gridWidth": 2,
            "domainColor": "black", "domainWidth": 11,
            "tickColor": "#333333", "tickWidth": 4, "tickSize": 14,
            "labelFont": "Liberation Sans", "labelFontSize": 72, "labelColor": "black", "labelPadding": 14,
            "labelFlush": false, "labelOverlap": false, "labelLimit": 400,
            "titleFont": "Liberation Sans", "titleFontSize": 82, "titleFontWeight": "normal", "titleColor": "black",
            "titleX": -240, "titleY": 1020, "titleAngle": -90, "titleAlign": "center", "titleBaseline": "alphabetic"
          }
        },
        "color": {
          "field": "GEN", "type": "nominal",
          "scale": {
            "domain": ["ALL", "Baden-Wuerttemberg", "Bayern", "Brandenburg", "Hessen", "Mecklenburg-Vorpommern", "Niedersachsen", "Nordrhein-Westfalen", "Rheinland-Pfalz", "Saarland", "Sachsen", "Sachsen-Anhalt", "Schleswig-Holstein", "Thueringen"],
            "range": ["#000000", "#ff7f50", "#ee3b3b", "#ffa500", "#8b3626", "#cd3700", "#87ceeb", "#0000ff", "#6a5acd", "#bf3eff", "#caff70", "#9acd32", "#7fffd4", "#8b7d6b"]
          },
          "legend": {
            "orient": "none", "legendX": 3173, "legendY": 203,
            "title": "GEN", "titleFont": "Liberation Sans", "titleFontSize": 54, "titleFontWeight": "normal", "titleColor": "black", "titlePadding": 30,
            "labelFont": "Liberation Sans", "labelFontSize": 45, "labelColor": "black", "labelLimit": 2000, "labelOffset": 36,
            "symbolType": "stroke", "symbolSize": 5329, "symbolStrokeWidth": 14,
            "rowPadding": 17, "padding": 36,
            "strokeColor": "black", "fillColor": "white"
          }
        },
        "strokeWidth": {"condition": {"test": "datum.GEN === 'ALL'", "value": 17}, "value": 14}
      }
    }
  ],
  "resolve": {"axis": {"x": "independent", "y": "independent"}}
}
